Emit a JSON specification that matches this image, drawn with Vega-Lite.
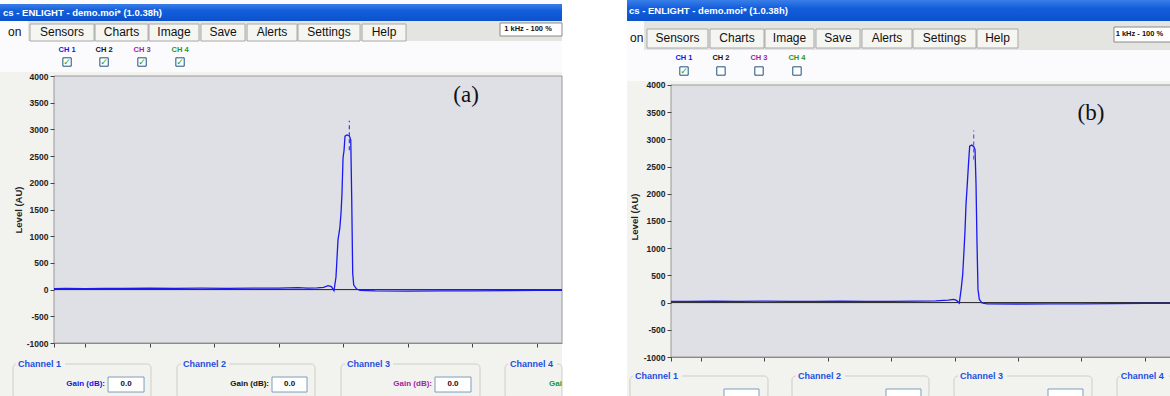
{
  "$schema": "https://vega.github.io/schema/vega-lite/v6.json",
  "padding": 0,
  "background": "white",
  "spacing": 61,
  "bounds": "full",
  "config": {
    "view": {"stroke": null},
    "font": "Liberation Sans"
  },
  "resolve": {"scale": {"x": "independent", "y": "independent", "color": "independent"}},
  "datasets": {
    "lineA": [
      {"x": -0.481, "y": 18}, {"x": -0.3, "y": 22}, {"x": 0, "y": 20}, {"x": 0.3, "y": 24}, {"x": 0.6, "y": 22},
      {"x": 1.0, "y": 25}, {"x": 1.4, "y": 23}, {"x": 1.8, "y": 26}, {"x": 2.2, "y": 24}, {"x": 2.6, "y": 27},
      {"x": 3.0, "y": 26}, {"x": 3.3, "y": 38}, {"x": 3.45, "y": 28}, {"x": 3.6, "y": 33}, {"x": 3.7, "y": 40},
      {"x": 3.767, "y": 73}, {"x": 3.82, "y": 55}, {"x": 3.86, "y": -20}, {"x": 3.891, "y": 235}, {"x": 3.922, "y": 930},
      {"x": 3.95, "y": 1150}, {"x": 3.969, "y": 1435}, {"x": 3.984, "y": 1800}, {"x": 4.0, "y": 2460}, {"x": 4.016, "y": 2610},
      {"x": 4.031, "y": 2875}, {"x": 4.06, "y": 2895}, {"x": 4.098, "y": 2880}, {"x": 4.12, "y": 2800}, {"x": 4.135, "y": 1680},
      {"x": 4.15, "y": 310}, {"x": 4.166, "y": 85}, {"x": 4.212, "y": 10}, {"x": 4.264, "y": -15}, {"x": 4.5, "y": -25},
      {"x": 5.0, "y": -28}, {"x": 5.5, "y": -24}, {"x": 6.0, "y": -22}, {"x": 6.5, "y": -18}, {"x": 7.0, "y": -14}, {"x": 7.395, "y": -12}
    ],
    "lineB": [
      {"x": -0.473, "y": 22}, {"x": -0.2, "y": 24}, {"x": 0.2, "y": 25}, {"x": 0.6, "y": 23}, {"x": 1.0, "y": 26},
      {"x": 1.4, "y": 22}, {"x": 1.8, "y": 24}, {"x": 2.2, "y": 25}, {"x": 2.6, "y": 23}, {"x": 3.0, "y": 24},
      {"x": 3.4, "y": 27}, {"x": 3.7, "y": 30}, {"x": 3.9, "y": 45}, {"x": 3.986, "y": 59}, {"x": 4.03, "y": 40},
      {"x": 4.074, "y": -9}, {"x": 4.106, "y": 272}, {"x": 4.128, "y": 518}, {"x": 4.148, "y": 947}, {"x": 4.164, "y": 1314},
      {"x": 4.18, "y": 1805}, {"x": 4.2, "y": 2173}, {"x": 4.222, "y": 2600}, {"x": 4.238, "y": 2877}, {"x": 4.27, "y": 2895},
      {"x": 4.301, "y": 2870}, {"x": 4.322, "y": 2816}, {"x": 4.338, "y": 2173}, {"x": 4.353, "y": 1130}, {"x": 4.369, "y": 243},
      {"x": 4.39, "y": 59}, {"x": 4.432, "y": -4}, {"x": 4.511, "y": -22}, {"x": 5.0, "y": -26}, {"x": 5.5, "y": -24},
      {"x": 6.0, "y": -25}, {"x": 6.5, "y": -20}, {"x": 7.0, "y": -16}, {"x": 7.429, "y": -14}
    ],
    "peakA": [{"x": 4.098, "y": 2610, "y2": 3160}],
    "peakB": [{"x": 4.301, "y": 2632, "y2": 3165}],
    "zeroA": [{"x": -0.481, "x2": 7.395, "y": 0}],
    "zeroB": [{"x": -0.473, "x2": 7.429, "y": 0}],
    "boxA": [
      {"x": -0.279, "y": 4262, "checked": true}, {"x": 0.295, "y": 4262, "checked": true},
      {"x": 0.884, "y": 4262, "checked": true}, {"x": 1.473, "y": 4262, "checked": true}
    ],
    "boxB": [
      {"x": -0.268, "y": 4257, "checked": true}, {"x": 0.315, "y": 4257, "checked": false},
      {"x": 0.915, "y": 4257, "checked": false}, {"x": 1.514, "y": 4257, "checked": false}
    ],
    "uiA": [
      {"kind": "header", "x": -1.318, "x2": 7.395, "y": 5423, "y2": 5348},
      {"kind": "bg", "x": -1.318, "x2": 7.395, "y": 4655, "y2": -1993},
      {"kind": "header", "x": -1.318, "x2": 7.395, "y": 4655, "y2": 4075},
      {"kind": "titlebar", "x": -1.318, "x2": 7.395, "y": 5348, "y2": 5030},
      {"kind": "tabbar", "x": -1.318, "x2": 7.395, "y": 5030, "y2": 4655},
      {"kind": "tab", "x": -1.318, "x2": -0.884, "y": 5030, "y2": 4655},
      {"kind": "button", "x": -0.853, "x2": 0.14, "y": 4974, "y2": 4655},
      {"kind": "button", "x": 0.155, "x2": 0.977, "y": 4974, "y2": 4655},
      {"kind": "button", "x": 0.992, "x2": 1.767, "y": 4974, "y2": 4655},
      {"kind": "button", "x": 1.798, "x2": 2.481, "y": 4974, "y2": 4655},
      {"kind": "button", "x": 2.512, "x2": 3.287, "y": 4974, "y2": 4655},
      {"kind": "button", "x": 3.302, "x2": 4.264, "y": 4974, "y2": 4655},
      {"kind": "button", "x": 4.295, "x2": 4.977, "y": 4974, "y2": 4655},
      {"kind": "khz", "x": 6.434, "x2": 7.395, "y": 4993, "y2": 4749},
      {"kind": "plot", "x": -0.481, "x2": 7.395, "y": -1000, "y2": 4000},
      {"kind": "group", "x": -1.116, "x2": 1.023, "y": -1393, "y2": -2050},
      {"kind": "group", "x": 1.426, "x2": 3.566, "y": -1393, "y2": -2050},
      {"kind": "group", "x": 3.969, "x2": 6.124, "y": -1393, "y2": -2050},
      {"kind": "group", "x": 6.512, "x2": 7.395, "y": -1393, "y2": -2050},
      {"kind": "labelbg", "x": -1.07, "x2": -0.31, "y": -1319, "y2": -1468},
      {"kind": "labelbg", "x": 1.488, "x2": 2.233, "y": -1319, "y2": -1468},
      {"kind": "labelbg", "x": 4.031, "x2": 4.775, "y": -1319, "y2": -1468},
      {"kind": "labelbg", "x": 6.558, "x2": 7.318, "y": -1319, "y2": -1468},
      {"kind": "input", "x": 0.357, "x2": 0.915, "y": -1637, "y2": -1918},
      {"kind": "input", "x": 2.899, "x2": 3.442, "y": -1637, "y2": -1918},
      {"kind": "input", "x": 5.426, "x2": 5.984, "y": -1637, "y2": -1918}
    ],
    "uiB": [
      {"kind": "bg", "x": -1.167, "x2": 7.429, "y": 4643, "y2": -1717},
      {"kind": "header", "x": -1.167, "x2": 7.429, "y": 4643, "y2": 4074},
      {"kind": "titlebar", "x": -1.167, "x2": 7.429, "y": 5562, "y2": 5176},
      {"kind": "tabbar", "x": -1.167, "x2": 7.429, "y": 5176, "y2": 4643},
      {"kind": "tab", "x": -1.167, "x2": -0.899, "y": 5176, "y2": 4643},
      {"kind": "button", "x": -0.852, "x2": 0.11, "y": 5029, "y2": 4680},
      {"kind": "button", "x": 0.142, "x2": 0.994, "y": 5029, "y2": 4680},
      {"kind": "button", "x": 1.009, "x2": 1.782, "y": 5029, "y2": 4680},
      {"kind": "button", "x": 1.814, "x2": 2.508, "y": 5029, "y2": 4680},
      {"kind": "button", "x": 2.539, "x2": 3.328, "y": 5029, "y2": 4680},
      {"kind": "button", "x": 3.344, "x2": 4.338, "y": 5029, "y2": 4680},
      {"kind": "button", "x": 4.353, "x2": 5.0, "y": 5029, "y2": 4680},
      {"kind": "khz", "x": 6.514, "x2": 7.429, "y": 5066, "y2": 4790},
      {"kind": "plot", "x": -0.473, "x2": 7.429, "y": -1000, "y2": 4000},
      {"kind": "group", "x": -1.12, "x2": 1.057, "y": -1349, "y2": -1772},
      {"kind": "group", "x": 1.435, "x2": 3.596, "y": -1349, "y2": -1772},
      {"kind": "group", "x": 3.991, "x2": 6.167, "y": -1349, "y2": -1772},
      {"kind": "group", "x": 6.562, "x2": 7.429, "y": -1349, "y2": -1772},
      {"kind": "labelbg", "x": -1.073, "x2": -0.3, "y": -1276, "y2": -1423},
      {"kind": "labelbg", "x": 1.498, "x2": 2.271, "y": -1276, "y2": -1423},
      {"kind": "labelbg", "x": 4.054, "x2": 4.826, "y": -1276, "y2": -1423},
      {"kind": "labelbg", "x": 6.609, "x2": 7.382, "y": -1276, "y2": -1423},
      {"kind": "input", "x": 0.363, "x2": 0.915, "y": -1588, "y2": -1772},
      {"kind": "input", "x": 2.918, "x2": 3.47, "y": -1588, "y2": -1772},
      {"kind": "input", "x": 5.473, "x2": 6.025, "y": -1588, "y2": -1772}
    ],
    "textA": [
      {"kind": "title", "label": "cs - ENLIGHT - demo.moi* (1.0.38h)", "x": -1.271, "y": 5189},
      {"kind": "tableft", "label": "on", "x": -1.194, "y": 4815},
      {"kind": "button", "label": "Sensors", "x": -0.357, "y": 4815},
      {"kind": "button", "label": "Charts", "x": 0.566, "y": 4815},
      {"kind": "button", "label": "Image", "x": 1.38, "y": 4815},
      {"kind": "button", "label": "Save", "x": 2.14, "y": 4815},
      {"kind": "button", "label": "Alerts", "x": 2.899, "y": 4815},
      {"kind": "button", "label": "Settings", "x": 3.783, "y": 4815},
      {"kind": "button", "label": "Help", "x": 4.636, "y": 4815},
      {"kind": "khz", "label": "1 kHz - 100 %", "x": 6.5, "y": 4871},
      {"kind": "ch", "label": "CH 1", "ch": "1", "x": -0.279, "y": 4487},
      {"kind": "ch", "label": "CH 2", "ch": "2", "x": 0.295, "y": 4487},
      {"kind": "ch", "label": "CH 3", "ch": "3", "x": 0.884, "y": 4487},
      {"kind": "ch", "label": "CH 4", "ch": "4", "x": 1.473, "y": 4487},
      {"kind": "panel", "label": "(a)", "x": 5.907, "y": 3644},
      {"kind": "channel", "label": "Channel 1", "x": -1.039, "y": -1393},
      {"kind": "channel", "label": "Channel 2", "x": 1.519, "y": -1393},
      {"kind": "channel", "label": "Channel 3", "x": 4.062, "y": -1393},
      {"kind": "channel", "label": "Channel 4", "x": 6.589, "y": -1393},
      {"kind": "gain", "label": "Gain (dB):", "ch": "1", "x": 0.31, "y": -1777},
      {"kind": "gain", "label": "Gain (dB):", "ch": "2", "x": 2.853, "y": -1777},
      {"kind": "gain", "label": "Gain (dB):", "ch": "3", "x": 5.38, "y": -1777},
      {"kind": "gainleft", "label": "Gai", "ch": "4", "x": 7.194, "y": -1777},
      {"kind": "value", "label": "0.0", "x": 0.636, "y": -1777},
      {"kind": "value", "label": "0.0", "x": 3.171, "y": -1777},
      {"kind": "value", "label": "0.0", "x": 5.705, "y": -1777}
    ],
    "textB": [
      {"kind": "title", "label": "cs - ENLIGHT - demo.moi* (1.0.38h)", "x": -1.136, "y": 5360},
      {"kind": "tableft", "label": "on", "x": -1.12, "y": 4855},
      {"kind": "button", "label": "Sensors", "x": -0.371, "y": 4855},
      {"kind": "button", "label": "Charts", "x": 0.568, "y": 4855},
      {"kind": "button", "label": "Image", "x": 1.396, "y": 4855},
      {"kind": "button", "label": "Save", "x": 2.161, "y": 4855},
      {"kind": "button", "label": "Alerts", "x": 2.934, "y": 4855},
      {"kind": "button", "label": "Settings", "x": 3.841, "y": 4855},
      {"kind": "button", "label": "Help", "x": 4.677, "y": 4855},
      {"kind": "khz", "label": "1 kHz - 100 %", "x": 6.54, "y": 4937},
      {"kind": "ch", "label": "CH 1", "ch": "1", "x": -0.268, "y": 4496},
      {"kind": "ch", "label": "CH 2", "ch": "2", "x": 0.315, "y": 4496},
      {"kind": "ch", "label": "CH 3", "ch": "3", "x": 0.915, "y": 4496},
      {"kind": "ch", "label": "CH 4", "ch": "4", "x": 1.514, "y": 4496},
      {"kind": "panel", "label": "(b)", "x": 6.151, "y": 3485},
      {"kind": "channel", "label": "Channel 1", "x": -1.041, "y": -1349},
      {"kind": "channel", "label": "Channel 2", "x": 1.53, "y": -1349},
      {"kind": "channel", "label": "Channel 3", "x": 4.085, "y": -1349},
      {"kind": "channel", "label": "Channel 4", "x": 6.62, "y": -1349}
    ]
  },
  "hconcat": [
    {
      "width": 508,
      "height": 267,
      "encoding": {
        "x": {"field": "x", "type": "quantitative",
          "scale": {"domain": [-0.481, 7.395], "nice": false, "zero": false},
          "axis": {"values": [-0.481, 0, 1, 2, 3, 4, 5, 6, 7], "labels": false, "title": null, "tickSize": 4, "tickColor": "#444444", "domainColor": "#8a8a8a", "grid": false, "zindex": 1}},
        "y": {"field": "y", "type": "quantitative",
          "scale": {"domain": [-1000, 4000], "nice": false, "zero": false},
          "axis": {"values": [-1000, -500, 0, 500, 1000, 1500, 2000, 2500, 3000, 3500, 4000], "labelExpr": "datum.value + ''", "domain": false, "title": "Level (AU)", "titleFont": "Liberation Sans", "titleFontSize": 9.5, "titleFontWeight": "bold", "titleColor": "#222222", "titlePadding": 3, "labelFont": "Liberation Sans", "labelFontSize": 8.5, "labelFontWeight": "bold", "labelColor": "#222222", "labelPadding": 2, "tickSize": 4, "tickColor": "#444444", "grid": false, "zindex": 1}}
      },
      "layer": [
        {"data": {"name": "uiA"}, "transform": [{"filter": "datum.kind == 'bg'"}], "mark": {"type": "rect", "fill": "#f2f2ee", "clip": false}, "encoding": {"x2": {"field": "x2"}, "y2": {"field": "y2"}}},
        {"data": {"name": "uiA"}, "transform": [{"filter": "datum.kind == 'header'"}], "mark": {"type": "rect", "fill": "#fbfbfd", "clip": false}, "encoding": {"x2": {"field": "x2"}, "y2": {"field": "y2"}}},
        {"data": {"name": "uiA"}, "transform": [{"filter": "datum.kind == 'titlebar'"}], "mark": {"type": "rect", "clip": false, "fill": {"gradient": "linear", "x1": 0, "y1": 0, "x2": 0, "y2": 1, "stops": [{"offset": 0, "color": "#3a7fe8"}, {"offset": 0.4, "color": "#145ddb"}, {"offset": 1, "color": "#0b52cc"}]}}, "encoding": {"x2": {"field": "x2"}, "y2": {"field": "y2"}}},
        {"data": {"name": "uiA"}, "transform": [{"filter": "datum.kind == 'tabbar'"}], "mark": {"type": "rect", "fill": "#e4e4e1", "clip": false}, "encoding": {"x2": {"field": "x2"}, "y2": {"field": "y2"}}},
        {"data": {"name": "uiA"}, "transform": [{"filter": "datum.kind == 'tab'"}], "mark": {"type": "rect", "fill": "#fbfbfd", "clip": false}, "encoding": {"x2": {"field": "x2"}, "y2": {"field": "y2"}}},
        {"data": {"name": "uiA"}, "transform": [{"filter": "datum.kind == 'button'"}], "mark": {"type": "rect", "fill": "#f5f5f2", "stroke": "#a8a8a8", "strokeWidth": 1, "clip": false}, "encoding": {"x2": {"field": "x2"}, "y2": {"field": "y2"}}},
        {"data": {"name": "uiA"}, "transform": [{"filter": "datum.kind == 'khz'"}], "mark": {"type": "rect", "fill": "#ffffff", "stroke": "#8a8a8a", "strokeWidth": 1, "clip": false}, "encoding": {"x2": {"field": "x2"}, "y2": {"field": "y2"}}},
        {"data": {"name": "uiA"}, "transform": [{"filter": "datum.kind == 'plot'"}], "mark": {"type": "rect", "fill": "#dfdfe6", "stroke": "#9a9a9a", "strokeWidth": 1, "clip": false}, "encoding": {"x2": {"field": "x2"}, "y2": {"field": "y2"}}},
        {"data": {"name": "uiA"}, "transform": [{"filter": "datum.kind == 'group'"}], "mark": {"type": "rect", "fill": "#f2f2ee", "fillOpacity": 0, "stroke": "#cfcfc6", "strokeWidth": 1, "cornerRadius": 4, "clip": false}, "encoding": {"x2": {"field": "x2"}, "y2": {"field": "y2"}}},
        {"data": {"name": "uiA"}, "transform": [{"filter": "datum.kind == 'labelbg'"}], "mark": {"type": "rect", "fill": "#f2f2ee", "clip": false}, "encoding": {"x2": {"field": "x2"}, "y2": {"field": "y2"}}},
        {"data": {"name": "uiA"}, "transform": [{"filter": "datum.kind == 'input'"}], "mark": {"type": "rect", "fill": "#ffffff", "stroke": "#7f9db9", "strokeWidth": 1, "clip": false}, "encoding": {"x2": {"field": "x2"}, "y2": {"field": "y2"}}},
        {"data": {"name": "boxA"}, "mark": {"type": "point", "shape": "square", "size": 70, "filled": true, "fill": "#ffffff", "stroke": "#1c5180", "strokeWidth": 1, "opacity": 1, "clip": false}},
        {"data": {"name": "boxA"}, "transform": [{"filter": "datum.checked"}], "mark": {"type": "text", "text": "✓", "font": "DejaVu Sans", "fontSize": 9, "fontWeight": "bold", "color": "#21a321", "baseline": "middle", "align": "center", "clip": false}},
        {"data": {"name": "zeroA"}, "mark": {"type": "rule", "color": "#222222", "strokeWidth": 1}, "encoding": {"x2": {"field": "x2"}}},
        {"data": {"name": "lineA"}, "mark": {"type": "line", "color": "#1a1af0", "strokeWidth": 1.3, "interpolate": "linear"}},
        {"data": {"name": "peakA"}, "mark": {"type": "rule", "color": "#3a3af0", "strokeWidth": 1.2, "strokeDash": [4, 3]}, "encoding": {"y2": {"field": "y2"}}},
        {"data": {"name": "textA"}, "transform": [{"filter": "datum.kind == 'title'"}], "mark": {"type": "text", "color": "#ffffff", "fontSize": 9.5, "fontWeight": "bold", "align": "left", "baseline": "middle", "clip": false}, "encoding": {"text": {"field": "label"}}},
        {"data": {"name": "textA"}, "transform": [{"filter": "datum.kind == 'button'"}], "mark": {"type": "text", "color": "#111111", "fontSize": 12, "align": "center", "baseline": "middle", "clip": false}, "encoding": {"text": {"field": "label"}}},
        {"data": {"name": "textA"}, "transform": [{"filter": "datum.kind == 'tableft'"}], "mark": {"type": "text", "color": "#111111", "fontSize": 12, "align": "left", "baseline": "middle", "clip": false}, "encoding": {"text": {"field": "label"}}},
        {"data": {"name": "textA"}, "transform": [{"filter": "datum.kind == 'khz'"}], "mark": {"type": "text", "color": "#111111", "fontSize": 7.5, "fontWeight": "bold", "align": "left", "baseline": "middle", "clip": false}, "encoding": {"text": {"field": "label"}}},
        {"data": {"name": "textA"}, "transform": [{"filter": "datum.kind == 'ch'"}], "mark": {"type": "text", "fontSize": 7.5, "fontWeight": "bold", "align": "center", "baseline": "middle", "clip": false}, "encoding": {"text": {"field": "label"}, "color": {"field": "ch", "type": "nominal", "scale": {"domain": ["1", "2", "3", "4"], "range": ["#1414e8", "#111111", "#a01ea0", "#1a9a1a"]}, "legend": null}}},
        {"data": {"name": "textA"}, "transform": [{"filter": "datum.kind == 'panel'"}], "mark": {"type": "text", "font": "Liberation Serif", "fontSize": 23, "color": "#111111", "align": "center", "baseline": "middle", "clip": false}, "encoding": {"text": {"field": "label"}}},
        {"data": {"name": "textA"}, "transform": [{"filter": "datum.kind == 'channel'"}], "mark": {"type": "text", "fontSize": 9, "fontWeight": "bold", "color": "#1f4fe0", "align": "left", "baseline": "middle", "clip": false}, "encoding": {"text": {"field": "label"}}},
        {"data": {"name": "textA"}, "transform": [{"filter": "datum.kind == 'gain'"}], "mark": {"type": "text", "fontSize": 8, "fontWeight": "bold", "align": "right", "baseline": "middle", "clip": false}, "encoding": {"text": {"field": "label"}, "color": {"field": "ch", "type": "nominal", "scale": {"domain": ["1", "2", "3", "4"], "range": ["#1414e8", "#111111", "#a01ea0", "#1a9a1a"]}, "legend": null}}},
        {"data": {"name": "textA"}, "transform": [{"filter": "datum.kind == 'gainleft'"}], "mark": {"type": "text", "fontSize": 8, "fontWeight": "bold", "align": "left", "baseline": "middle", "clip": false}, "encoding": {"text": {"field": "label"}, "color": {"field": "ch", "type": "nominal", "scale": {"domain": ["1", "2", "3", "4"], "range": ["#1414e8", "#111111", "#a01ea0", "#1a9a1a"]}, "legend": null}}},
        {"data": {"name": "textA"}, "transform": [{"filter": "datum.kind == 'value'"}], "mark": {"type": "text", "fontSize": 8, "fontWeight": "bold", "color": "#111111", "align": "center", "baseline": "middle", "clip": false}, "encoding": {"text": {"field": "label"}}}
      ]
    },
    {
      "width": 501,
      "height": 281,
      "encoding": {
        "x": {"field": "x", "type": "quantitative",
          "scale": {"domain": [-0.473, 7.429], "nice": false, "zero": false},
          "axis": {"values": [-0.473, 0, 1, 2, 3, 4, 5, 6, 7], "labels": false, "title": null, "tickSize": 4, "tickColor": "#444444", "domainColor": "#8a8a8a", "grid": false, "zindex": 1}},
        "y": {"field": "y", "type": "quantitative",
          "scale": {"domain": [-1000, 4165.4], "nice": false, "zero": false},
          "axis": {"values": [-1000, -500, 0, 500, 1000, 1500, 2000, 2500, 3000, 3500, 4000], "labelExpr": "datum.value + ''", "domain": false, "title": "Level (AU)", "titleFont": "Liberation Sans", "titleFontSize": 9.5, "titleFontWeight": "bold", "titleColor": "#222222", "titlePadding": 4, "labelFont": "Liberation Sans", "labelFontSize": 8.5, "labelFontWeight": "bold", "labelColor": "#222222", "labelPadding": 2, "tickSize": 4, "tickColor": "#444444", "grid": false, "zindex": 1}}
      },
      "layer": [
        {"data": {"name": "uiB"}, "transform": [{"filter": "datum.kind == 'bg'"}], "mark": {"type": "rect", "fill": "#f2f2ee", "clip": false}, "encoding": {"x2": {"field": "x2"}, "y2": {"field": "y2"}}},
        {"data": {"name": "uiB"}, "transform": [{"filter": "datum.kind == 'header'"}], "mark": {"type": "rect", "fill": "#fbfbfd", "clip": false}, "encoding": {"x2": {"field": "x2"}, "y2": {"field": "y2"}}},
        {"data": {"name": "uiB"}, "transform": [{"filter": "datum.kind == 'titlebar'"}], "mark": {"type": "rect", "clip": false, "fill": {"gradient": "linear", "x1": 0, "y1": 0, "x2": 0, "y2": 1, "stops": [{"offset": 0, "color": "#3a7fe8"}, {"offset": 0.4, "color": "#145ddb"}, {"offset": 1, "color": "#0b52cc"}]}}, "encoding": {"x2": {"field": "x2"}, "y2": {"field": "y2"}}},
        {"data": {"name": "uiB"}, "transform": [{"filter": "datum.kind == 'tabbar'"}], "mark": {"type": "rect", "fill": "#e4e4e1", "clip": false}, "encoding": {"x2": {"field": "x2"}, "y2": {"field": "y2"}}},
        {"data": {"name": "uiB"}, "transform": [{"filter": "datum.kind == 'tab'"}], "mark": {"type": "rect", "fill": "#fbfbfd", "clip": false}, "encoding": {"x2": {"field": "x2"}, "y2": {"field": "y2"}}},
        {"data": {"name": "uiB"}, "transform": [{"filter": "datum.kind == 'button'"}], "mark": {"type": "rect", "fill": "#f5f5f2", "stroke": "#a8a8a8", "strokeWidth": 1, "clip": false}, "encoding": {"x2": {"field": "x2"}, "y2": {"field": "y2"}}},
        {"data": {"name": "uiB"}, "transform": [{"filter": "datum.kind == 'khz'"}], "mark": {"type": "rect", "fill": "#ffffff", "stroke": "#8a8a8a", "strokeWidth": 1, "clip": false}, "encoding": {"x2": {"field": "x2"}, "y2": {"field": "y2"}}},
        {"data": {"name": "uiB"}, "transform": [{"filter": "datum.kind == 'plot'"}], "mark": {"type": "rect", "fill": "#dfdfe6", "stroke": "#9a9a9a", "strokeWidth": 1, "clip": false}, "encoding": {"x2": {"field": "x2"}, "y2": {"field": "y2"}}},
        {"data": {"name": "uiB"}, "transform": [{"filter": "datum.kind == 'group'"}], "mark": {"type": "rect", "fill": "#f2f2ee", "fillOpacity": 0, "stroke": "#cfcfc6", "strokeWidth": 1, "cornerRadius": 4, "clip": false}, "encoding": {"x2": {"field": "x2"}, "y2": {"field": "y2"}}},
        {"data": {"name": "uiB"}, "transform": [{"filter": "datum.kind == 'labelbg'"}], "mark": {"type": "rect", "fill": "#f2f2ee", "clip": false}, "encoding": {"x2": {"field": "x2"}, "y2": {"field": "y2"}}},
        {"data": {"name": "uiB"}, "transform": [{"filter": "datum.kind == 'input'"}], "mark": {"type": "rect", "fill": "#ffffff", "stroke": "#7f9db9", "strokeWidth": 1, "clip": false}, "encoding": {"x2": {"field": "x2"}, "y2": {"field": "y2"}}},
        {"data": {"name": "boxB"}, "mark": {"type": "point", "shape": "square", "size": 70, "filled": true, "fill": "#ffffff", "stroke": "#1c5180", "strokeWidth": 1, "opacity": 1, "clip": false}},
        {"data": {"name": "boxB"}, "transform": [{"filter": "datum.checked"}], "mark": {"type": "text", "text": "✓", "font": "DejaVu Sans", "fontSize": 9, "fontWeight": "bold", "color": "#21a321", "baseline": "middle", "align": "center", "clip": false}},
        {"data": {"name": "zeroB"}, "mark": {"type": "rule", "color": "#222222", "strokeWidth": 1}, "encoding": {"x2": {"field": "x2"}}},
        {"data": {"name": "lineB"}, "mark": {"type": "line", "color": "#1a1af0", "strokeWidth": 1.3, "interpolate": "linear"}},
        {"data": {"name": "peakB"}, "mark": {"type": "rule", "color": "#5a5af0", "strokeWidth": 1.2, "strokeDash": [4, 3]}, "encoding": {"y2": {"field": "y2"}}},
        {"data": {"name": "textB"}, "transform": [{"filter": "datum.kind == 'title'"}], "mark": {"type": "text", "color": "#ffffff", "fontSize": 9.5, "fontWeight": "bold", "align": "left", "baseline": "middle", "clip": false}, "encoding": {"text": {"field": "label"}}},
        {"data": {"name": "textB"}, "transform": [{"filter": "datum.kind == 'button'"}], "mark": {"type": "text", "color": "#111111", "fontSize": 12, "align": "center", "baseline": "middle", "clip": false}, "encoding": {"text": {"field": "label"}}},
        {"data": {"name": "textB"}, "transform": [{"filter": "datum.kind == 'tableft'"}], "mark": {"type": "text", "color": "#111111", "fontSize": 12, "align": "left", "baseline": "middle", "clip": false}, "encoding": {"text": {"field": "label"}}},
        {"data": {"name": "textB"}, "transform": [{"filter": "datum.kind == 'khz'"}], "mark": {"type": "text", "color": "#111111", "fontSize": 7.5, "fontWeight": "bold", "align": "left", "baseline": "middle", "clip": false}, "encoding": {"text": {"field": "label"}}},
        {"data": {"name": "textB"}, "transform": [{"filter": "datum.kind == 'ch'"}], "mark": {"type": "text", "fontSize": 7.5, "fontWeight": "bold", "align": "center", "baseline": "middle", "clip": false}, "encoding": {"text": {"field": "label"}, "color": {"field": "ch", "type": "nominal", "scale": {"domain": ["1", "2", "3", "4"], "range": ["#1414e8", "#111111", "#a01ea0", "#1a9a1a"]}, "legend": null}}},
        {"data": {"name": "textB"}, "transform": [{"filter": "datum.kind == 'panel'"}], "mark": {"type": "text", "font": "Liberation Serif", "fontSize": 23, "color": "#111111", "align": "center", "baseline": "middle", "clip": false}, "encoding": {"text": {"field": "label"}}},
        {"data": {"name": "textB"}, "transform": [{"filter": "datum.kind == 'channel'"}], "mark": {"type": "text", "fontSize": 9, "fontWeight": "bold", "color": "#1f4fe0", "align": "left", "baseline": "middle", "clip": false}, "encoding": {"text": {"field": "label"}}}
      ]
    }
  ]
}
